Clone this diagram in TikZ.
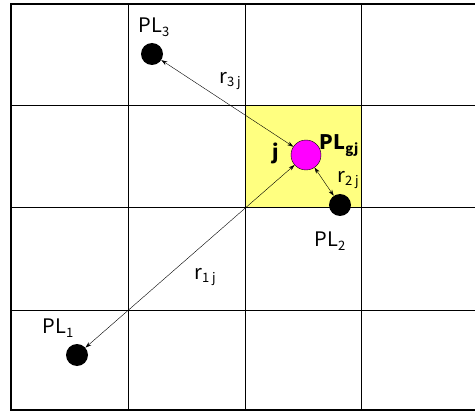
\documentclass[tikz,border=0pt]{standalone}
\usepackage{fontspec}
\setmainfont{Noto Sans CJK JP}
\usetikzlibrary{calc, positioning, arrows.meta}

\definecolor{cellyellow}{RGB}{255,255,128}
\definecolor{pinkdot}{RGB}{255,0,255}
\newcommand{\lowidx}[1]{\raisebox{-0.35ex}{\fontsize{13}{15}\selectfont #1}}

\tikzset{
  dot/.style={circle, fill=black, inner sep=0pt, minimum size=22pt},
  target/.style={circle, draw=black, fill=pinkdot, inner sep=0pt, minimum size=30pt},
  lbl/.style={font=\fontsize{20}{24}\selectfont, inner sep=0pt},
  boldlbl/.style={font=\fontsize{20}{24}\selectfont\bfseries, inner sep=0pt},
  dist/.style={{Stealth[length=6pt,width=4pt]}-{Stealth[length=6pt,width=4pt]}, thin}
}

\begin{document}
\begin{tikzpicture}[x=1pt, y=-1pt]
\useasboundingbox (0,0) rectangle (475,412);
% Highlighted cell
\fill[cellyellow] (245,105) rectangle (361,207);
% Grid
\foreach \x in {128,245,361} {
  \draw (\x,4) -- (\x,410);
}
\foreach \y in {105,207,310} {
  \draw (11,\y) -- (478,\y);
}
\draw[very thick] (478,4) -- (11,4) -- (11,410) -- (478,410);
% Points
\node[dot] (pl3) at (152,54) {};
\node[dot] (pl2) at (340,205) {};
\node[dot] (pl1) at (77,355) {};
\node[target] (plg) at (306,155) {};
% Labels
\node[lbl] (t3) at (154,27) {PL\lowidx{3}};
\node[lbl] (t2) at (330,241) {PL\lowidx{2}};
\node[lbl] (t1) at (58,328) {PL\lowidx{1}};
\node[boldlbl] (tg) at (339,146) {PL\lowidx{\bfseries gj}};
\node[boldlbl] (tj) at (276,153) {j};
% Distances
\draw[dist] (pl3) -- (plg);
\draw[dist] (pl1) -- (plg);
\draw[dist] (pl2) -- (plg);
\node[lbl] (r3) at (230,81) {r\lowidx{3 j}};
\node[lbl] (r2) at (348,180) {r\lowidx{2 j}};
\node[lbl] (r1) at (205,277) {r\lowidx{1 j}};
\end{tikzpicture}
\end{document}
